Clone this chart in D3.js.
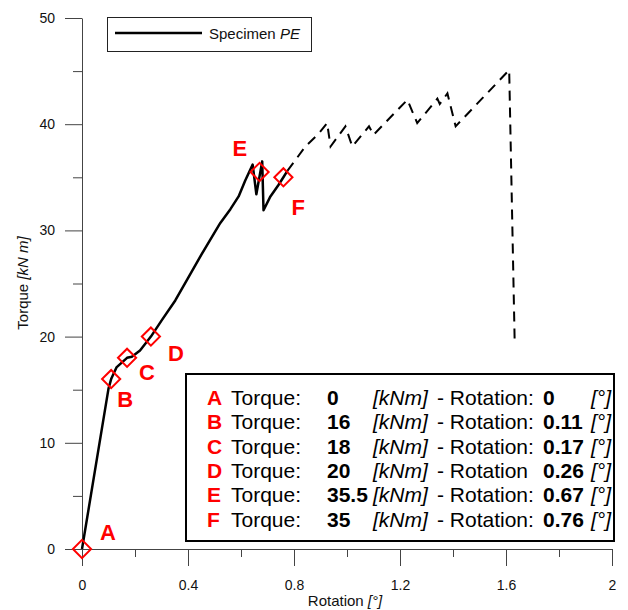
<!DOCTYPE html>
<html>
<head>
<meta charset="utf-8">
<script src="https://cdn.jsdelivr.net/npm/d3@7"></script>
<style>
  body { margin: 0; background: #fff; }
  svg { font-family: "Liberation Sans", Arial, sans-serif; }
</style>
</head>
<body>
<svg id="chart" width="628" height="610"></svg>
<script>
// curve before failure zone (solid)
const solidRotation = [0, 0.1, 0.11, 0.13, 0.17, 0.188, 0.219, 0.26, 0.3, 0.352, 0.4, 0.45, 0.5, 0.522, 0.56, 0.591, 0.616, 0.644, 0.658, 0.68, 0.685, 0.711, 0.742, 0.76, 0.775];
const solidTorque   = [0, 15.1, 16, 17.1, 18, 18.1, 18.7, 20, 21.5, 23.4, 25.5, 27.7, 29.8, 30.7, 32.0, 33.2, 34.7, 36.2, 33.4, 36.5, 31.9, 33.2, 34.3, 35, 35.6];
// post-peak part (dashed)
const dashRotation = [0.775, 0.843, 0.893, 0.925, 0.938, 0.994, 1.02, 1.083, 1.1, 1.228, 1.265, 1.341, 1.35, 1.379, 1.41, 1.612, 1.633];
const dashTorque   = [35.6, 37.9, 39.1, 40.1, 37.9, 39.8, 37.9, 39.8, 39.0, 42.3, 40.1, 42.4, 41.9, 42.9, 39.8, 45.1, 19.2];

// marked points
const pointNames    = ["A", "B", "C", "D", "E", "F"];
const pointTorque   = [0, 16, 18, 20, 35.5, 35];
const pointRotation = [0, 0.11, 0.17, 0.26, 0.67, 0.76];
const torqueText    = ["0", "16", "18", "20", "35.5", "35"];
const rotationText  = ["0", "0.11", "0.17", "0.26", "0.67", "0.76"];
const rotationWord  = ["- Rotation:", "- Rotation:", "- Rotation:", "- Rotation", "- Rotation:", "- Rotation:"];

const xMajor = [0, 0.4, 0.8, 1.2, 1.6, 2];
const xMinor = [0.2, 0.6, 1.0, 1.4, 1.8];
const yMajor = [0, 10, 20, 30, 40, 50];
const yMinor = [5, 15, 25, 35, 45];

// letter offsets around each diamond
const labelOffsets = [[18, -9], [6, 28], [12, 22], [17, 24], [-27, -16], [8, 38]];

const svg = d3.select("#chart");
const x = d3.scaleLinear().domain([0, 2]).range([82, 612]);
const y = d3.scaleLinear().domain([0, 50]).range([549, 18]);
const axisColor = "#444";

function styleAxis(g) {
  g.selectAll("path, line").attr("stroke", axisColor);
  g.selectAll("text").attr("fill", "#111").style("font-size", "14px")
   .style("font-family", "'Liberation Sans', Arial, sans-serif");
}

// x axis
svg.append("g").attr("transform", `translate(0,${y(0)})`)
  .call(d3.axisBottom(x).tickValues(xMajor).tickSize(17).tickSizeOuter(0).tickPadding(14)
        .tickFormat(d => d === 0 || d === 2 ? d3.format("d")(d) : d3.format(".1f")(d)))
  .call(styleAxis);
svg.append("g").attr("transform", `translate(0,${y(0)})`)
  .call(d3.axisBottom(x).tickValues(xMinor).tickSize(8).tickSizeOuter(0).tickFormat(""))
  .call(g => g.select(".domain").remove())
  .call(styleAxis);

// y axis
svg.append("g").attr("transform", `translate(${x(0)},0)`)
  .call(d3.axisLeft(y).tickValues(yMajor).tickSize(17).tickSizeOuter(0).tickPadding(10))
  .call(styleAxis);
svg.append("g").attr("transform", `translate(${x(0)},0)`)
  .call(d3.axisLeft(y).tickValues(yMinor).tickSize(9).tickSizeOuter(0).tickFormat(""))
  .call(g => g.select(".domain").remove())
  .call(styleAxis);

// axis titles
const xt = svg.append("text").attr("x", 345).attr("y", 606).attr("text-anchor", "middle")
  .style("font-size", "15px").attr("fill", "#111");
xt.append("tspan").text("Rotation ");
xt.append("tspan").style("font-style", "italic").text("[°]");

const yt = svg.append("text").attr("transform", "translate(28,283) rotate(-90)")
  .attr("text-anchor", "middle").style("font-size", "15px").attr("fill", "#111");
yt.append("tspan").text("Torque ");
yt.append("tspan").style("font-style", "italic").text("[kN m]");

// curves
const line = d3.line().x(d => x(d[0])).y(d => y(d[1]));
svg.append("path")
  .datum(solidRotation.map((r, i) => [r, solidTorque[i]]))
  .attr("d", line).attr("fill", "none").attr("stroke", "#000")
  .attr("stroke-width", 2.5).attr("stroke-linejoin", "round");
svg.append("path")
  .datum(dashRotation.map((r, i) => [r, dashTorque[i]]))
  .attr("d", line).attr("fill", "none").attr("stroke", "#000")
  .attr("stroke-width", 2).attr("stroke-dasharray", "10,7");

// diamonds + letters
const diamond = d3.symbol().type(d3.symbolSquare).size(165);
pointNames.forEach((n, i) => {
  const px = x(pointRotation[i]), py = y(pointTorque[i]);
  svg.append("path").attr("d", diamond())
    .attr("transform", `translate(${px},${py}) rotate(45)`)
    .attr("fill", "none").attr("stroke", "#f00").attr("stroke-width", 2);
  svg.append("text")
    .attr("x", px + labelOffsets[i][0]).attr("y", py + labelOffsets[i][1])
    .attr("fill", "#f00").style("font-size", "22px").style("font-weight", "bold")
    .text(n);
});

// legend
svg.append("rect").attr("x", 107.5).attr("y", 17.5).attr("width", 204).attr("height", 34)
  .attr("fill", "#fff").attr("stroke", "#222").attr("stroke-width", 1);
svg.append("line").attr("x1", 115).attr("x2", 202).attr("y1", 33).attr("y2", 33)
  .attr("stroke", "#000").attr("stroke-width", 2.5);
const lt = svg.append("text").attr("x", 209).attr("y", 39).style("font-size", "15px").attr("fill", "#111");
lt.append("tspan").text("Specimen ");
lt.append("tspan").style("font-style", "italic").text("PE");

// table of marked points
svg.append("rect").attr("x", 186).attr("y", 374).attr("width", 428).attr("height", 167)
  .attr("fill", "#fff").attr("stroke", "#000").attr("stroke-width", 2);
const rowY = i => 405 + i * 24.3;
pointNames.forEach((n, i) => {
  const t = (xx, txt, opts = {}) => svg.append("text").attr("x", xx).attr("y", rowY(i))
    .style("font-size", "21px").attr("fill", opts.color || "#000")
    .style("font-weight", opts.bold ? "bold" : "normal")
    .style("font-style", opts.italic ? "italic" : "normal").text(txt);
  t(207, n, { color: "#f00", bold: true });
  t(231, "Torque:");
  t(327, torqueText[i], { bold: true });
  t(373, "[kNm]", { italic: true });
  t(437, rotationWord[i]);
  t(543, rotationText[i], { bold: true });
  t(591, "[°]", { italic: true });
});
</script>
</body>
</html>
